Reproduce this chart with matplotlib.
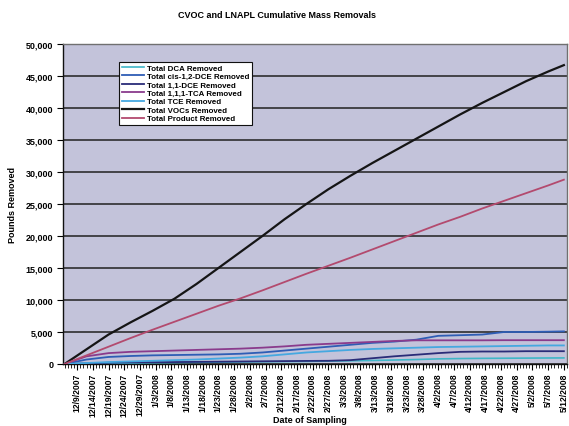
import matplotlib
matplotlib.use("Agg")
import matplotlib.pyplot as plt
import matplotlib.dates as mdates
from matplotlib.ticker import FuncFormatter, MultipleLocator
from datetime import datetime, timedelta

plt.rcParams['font.family'] = ['Liberation Sans', 'DejaVu Sans']

# Sampling dates (weekly) and cumulative pounds removed
sample_dates = [
    "2007-12-05", "2007-12-12", "2007-12-19", "2007-12-26", "2008-01-02", "2008-01-09",
    "2008-01-16", "2008-01-23", "2008-01-30", "2008-02-06", "2008-02-13", "2008-02-20",
    "2008-02-27", "2008-03-05", "2008-03-12", "2008-03-19", "2008-03-26", "2008-04-02",
    "2008-04-09", "2008-04-16", "2008-04-23", "2008-04-30", "2008-05-07", "2008-05-12",
]

dca = [0, 50, 100, 150, 200, 230, 260, 290, 320, 350, 380, 400,
       450, 500, 550, 620, 700, 800, 850, 880, 900, 920, 940, 950]
cis_dce = [0, 700, 1100, 1250, 1350, 1400, 1450, 1500, 1600, 1800, 2100, 2400,
           2700, 3000, 3300, 3500, 3800, 4400, 4500, 4600, 5000, 5000, 5050, 5100]
dce_11 = [0, 100, 200, 250, 280, 300, 330, 360, 390, 420, 450, 480,
          500, 600, 900, 1200, 1450, 1700, 1900, 1950, 1950, 2000, 2000, 2000]
tca_111 = [0, 1200, 1700, 1900, 2000, 2100, 2200, 2300, 2400, 2550, 2750, 3000,
           3150, 3300, 3450, 3600, 3700, 3700, 3700, 3700, 3720, 3720, 3720, 3720]
tce = [0, 150, 300, 400, 500, 600, 700, 850, 1000, 1200, 1500, 1800,
       2000, 2200, 2350, 2450, 2550, 2650, 2700, 2750, 2800, 2850, 2900, 2900]
vocs = [0, 2300, 4600, 6500, 8300, 10200, 12500, 15000, 17500, 20000, 22600, 25000,
        27300, 29400, 31400, 33300, 35200, 37100, 39000, 40800, 42500, 44200, 45700, 46700]
product = [0, 1350, 2700, 4050, 5350, 6600, 7850, 9100, 10250, 11500, 12800, 14100,
           15350, 16600, 17900, 19200, 20500, 21800, 23000, 24300, 25500, 26700, 27900, 28800]

series_labels = [
    "Total DCA Removed",
    "Total cis-1,2-DCE Removed",
    "Total 1,1-DCE Removed",
    "Total 1,1,1-TCA Removed",
    "Total TCE Removed",
    "Total VOCs Removed",
    "Total Product Removed",
]

dates = [datetime.strptime(d, "%Y-%m-%d") for d in sample_dates]

fig = plt.figure(figsize=(5.69, 4.27), dpi=100)
ax = fig.add_axes([0.1107, 0.1452, 0.8858, 0.7494])
ax.set_facecolor("#C3C3DA")

styles = [
    (dca, "#3FB6C8", 1.2),
    (cis_dce, "#2E5DB5", 1.3),
    (dce_11, "#2A2C78", 1.3),
    (tca_111, "#8A3B8C", 1.3),
    (tce, "#45A8E0", 1.3),
    (vocs, "#151515", 1.6),
    (product, "#B34A6E", 1.3),
]
for (vals, col, lw), lab in zip(styles, series_labels):
    ax.plot(dates, vals, color=col, lw=lw, label=lab, zorder=3)

# Axes ranges and ticks
ax.set_ylim(0, 50000)
ax.set_xlim(datetime(2007, 12, 4, 12), datetime(2008, 5, 13, 0))
ax.yaxis.set_major_locator(MultipleLocator(5000))
ax.yaxis.set_major_formatter(FuncFormatter(lambda v, p: f"{int(v):,}"))
ax.grid(axis="y", color="#202020", lw=1.1, zorder=1)

tick_dates = [datetime(2007, 12, 9) + timedelta(days=5 * i) for i in range(32)]
ax.set_xticks(tick_dates)
ax.set_xticklabels([f"{d.month}/{d.day}/{d.year}" for d in tick_dates],
                   rotation=90, fontsize=6.2, fontweight="bold")
ax.xaxis.set_minor_locator(mdates.DayLocator())
ax.tick_params(axis="x", which="major", length=4, width=0.8, pad=2)
ax.tick_params(axis="x", which="minor", length=3, width=0.6)
ax.tick_params(axis="y", length=4, width=0.8, pad=3, labelsize=6.5)
for t in ax.get_yticklabels():
    t.set_fontweight("bold")

for side in ["left", "bottom"]:
    ax.spines[side].set_color("#101010")
    ax.spines[side].set_linewidth(1.0)
for side in ["top", "right"]:
    ax.spines[side].set_color("#707070")
    ax.spines[side].set_linewidth(1.0)

fig.text(0.486, 0.963, "CVOC and LNAPL Cumulative Mass Removals",
         ha="center", va="center", fontsize=6.5, fontweight="bold")
ax.set_ylabel("Pounds Removed", fontsize=6.5, fontweight="bold", labelpad=6)
fig.text(0.545, 0.016, "Date of Sampling", ha="center", va="center",
         fontsize=6.5, fontweight="bold")

leg = ax.legend(loc="upper left", bbox_to_anchor=(0.112, 0.945), fontsize=5.7,
                frameon=True, fancybox=False, borderpad=0.3, labelspacing=0.12,
                handlelength=2.8, handletextpad=0.4, borderaxespad=0)
leg.get_frame().set_edgecolor("#101010")
leg.get_frame().set_linewidth(0.8)
leg.get_frame().set_facecolor("white")
leg.get_frame().set_alpha(1)
for t in leg.get_texts():
    t.set_fontweight("bold")

fig.savefig("out.png", dpi=100)
